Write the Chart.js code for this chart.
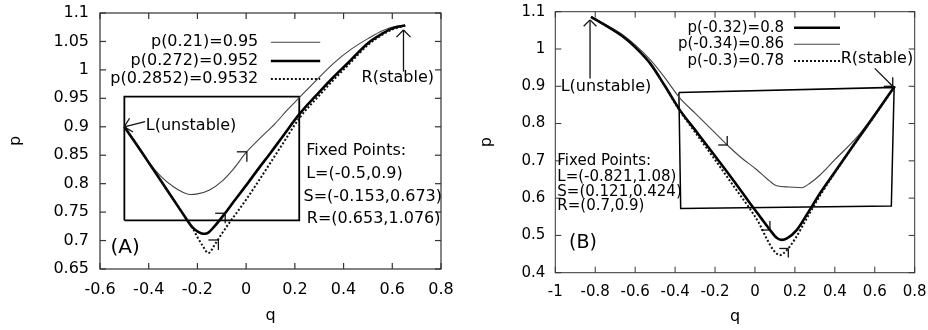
<!DOCTYPE html>
<html><head><meta charset="utf-8">
<script src="https://cdn.jsdelivr.net/npm/chart.js@4"></script>
<style>
html,body{margin:0;padding:0;background:#fff;}
#wrap{position:relative;width:928px;height:330px;overflow:hidden;background:#fff;}
canvas{position:absolute;top:0;}
#cA{left:0;} #cB{left:464px;}
</style></head><body>
<div id="wrap"><canvas id="cA" width="464" height="330"></canvas><canvas id="cB" width="464" height="330"></canvas></div>
<script>
// ---------- Panel A data ----------
const xTicksA = [-0.6,-0.4,-0.2,0,0.2,0.4,0.6,0.8];
const xLabelsA = ['-0.6','-0.4','-0.2','0','0.2','0.4','0.6','0.8'];
const yTicksA = [0.65,0.7,0.75,0.8,0.85,0.9,0.95,1,1.05,1.1];
const yLabelsA = ['0.65','0.7','0.75','0.8','0.85','0.9','0.95','1','1.05','1.1'];

const qA1 = [-0.5,-0.45,-0.4,-0.35,-0.3,-0.26,-0.23,-0.2,-0.15,-0.1,-0.05,0,0.05,0.12,0.17,0.22,0.3,0.36,0.43,0.5,0.56,0.62,0.653];
const pA1 = [0.9,0.869,0.838,0.813,0.795,0.785,0.781,0.782,0.789,0.804,0.827,0.855,0.877,0.906,0.93,0.952,0.987,1.012,1.036,1.055,1.069,1.077,1.078];
const qA2 = [-0.5,-0.45,-0.4,-0.35,-0.3,-0.25,-0.22,-0.2,-0.185,-0.17,-0.155,-0.13,-0.09,-0.05,0,0.05,0.1,0.15,0.22,0.3,0.36,0.42,0.5,0.56,0.6,0.653];
const pA2 = [0.9,0.869,0.837,0.805,0.773,0.741,0.723,0.716,0.713,0.712,0.714,0.725,0.746,0.769,0.797,0.826,0.854,0.883,0.923,0.961,0.988,1.013,1.047,1.064,1.073,1.078];
const qA3 = [-0.5,-0.45,-0.4,-0.35,-0.3,-0.25,-0.22,-0.2,-0.18,-0.155,-0.13,-0.1,-0.066,-0.03,0,0.05,0.1,0.15,0.22,0.3,0.36,0.42,0.5,0.56,0.6,0.653];
const pA3 = [0.9,0.869,0.837,0.805,0.773,0.741,0.722,0.706,0.692,0.678,0.692,0.712,0.733,0.754,0.772,0.804,0.837,0.87,0.916,0.955,0.983,1.009,1.044,1.062,1.071,1.078];
const qArect = [-0.5,-0.5,0.218,0.218,-0.5];
const pArect = [0.7355,0.953,0.953,0.7355,0.7355];
const legendA = ['p(0.21)=0.95','p(0.272)=0.952','p(0.2852)=0.9532'];
const fixedA = ['Fixed Points:','L=(-0.5,0.9)','S=(-0.153,0.673)','R=(0.653,1.076)'];

// ---------- Panel B data ----------
const xTicksB = [-1,-0.8,-0.6,-0.4,-0.2,0,0.2,0.4,0.6,0.8];
const xLabelsB = ['-1','-0.8','-0.6','-0.4','-0.2','0','0.2','0.4','0.6','0.8'];
const yTicksB = [0.4,0.5,0.6,0.7,0.8,0.9,1,1.1];
const yLabelsB = ['0.4','0.5','0.6','0.7','0.8','0.9','1','1.1'];

const qB1 = [-0.821,-0.75,-0.66,-0.6,-0.526,-0.45,-0.376,-0.3,-0.2,-0.1,-0.025,0.03,0.075,0.11,0.134,0.16,0.21,0.26,0.326,0.4,0.5,0.6,0.7];
const pB1 = [1.086,1.064,1.033,1.005,0.962,0.9,0.836,0.783,0.713,0.642,0.586,0.547,0.515,0.493,0.488,0.492,0.515,0.556,0.613,0.67,0.747,0.823,0.9];
const qB2 = [-0.821,-0.75,-0.66,-0.6,-0.526,-0.45,-0.376,-0.3,-0.2,-0.139,-0.07,0.009,0.06,0.109,0.17,0.234,0.28,0.326,0.4,0.513,0.6,0.7];
const pB2 = [1.086,1.066,1.037,1.011,0.972,0.922,0.868,0.828,0.775,0.7425,0.709,0.676,0.652,0.633,0.63,0.628,0.642,0.662,0.703,0.765,0.826,0.9];
const qB3 = [-0.821,-0.75,-0.66,-0.6,-0.526,-0.45,-0.376,-0.3,-0.2,-0.1,-0.03,0.02,0.06,0.092,0.125,0.16,0.2,0.262,0.326,0.4,0.5,0.6,0.7];
const pB3 = [1.086,1.064,1.033,1.005,0.962,0.899,0.834,0.777,0.703,0.627,0.575,0.533,0.49,0.461,0.447,0.461,0.49,0.548,0.607,0.668,0.746,0.822,0.9];
const qBrect = [-0.381,0.697,0.683,-0.372,-0.381];
const pBrect = [0.883,0.897,0.579,0.5725,0.883];
const legendB = ['p(-0.32)=0.8','p(-0.34)=0.86','p(-0.3)=0.78'];
const fixedB = ['Fixed Points:','L=(-0.821,1.08)','S=(0.121,0.424)','R=(0.7,0.9)'];

const pts = (q,p) => q.map((v,i)=>({x:v,y:p[i]}));
const FONT = '"DejaVu Sans", sans-serif';
const TXT = '#000';

const STY = {
  thin:  {borderColor:'#444', borderWidth:1.1, borderDash:[]},
  thick: {borderColor:'#000', borderWidth:2.6, borderDash:[]},
  dot:   {borderColor:'#111', borderWidth:2, borderDash:[2,2]},
};
function curve(q,p,sty){
  return Object.assign({data:pts(q,p), showLine:true, pointRadius:0, cubicInterpolationMode:'monotone', fill:false}, sty);
}
function rect(q,p,w){
  return {data:pts(q,p), showLine:true, pointRadius:0, tension:0, fill:false, borderColor:'#000', borderWidth:w};
}

const annot = {
  id:'annot',
  afterDatasetsDraw(chart, args, o){
    const {ctx, chartArea:a, scales:{x,y}} = chart;
    const X = v => x.getPixelForValue(v), Y = v => y.getPixelForValue(v);
    const line = (x1,y1,x2,y2)=>{ctx.beginPath();ctx.moveTo(x1,y1);ctx.lineTo(x2,y2);ctx.stroke();};
    ctx.save();
    // frame + inward ticks
    ctx.strokeStyle = '#333'; ctx.lineWidth = o.frameW; ctx.setLineDash([]);
    ctx.strokeRect(a.left, a.top, a.right-a.left, a.bottom-a.top);
    const L = 6;
    x.ticks.forEach(t=>{const px=X(t.value); line(px,a.bottom,px,a.bottom-L); line(px,a.top,px,a.top+L);});
    y.ticks.forEach(t=>{const py=Y(t.value); line(a.left,py,a.left+L,py); line(a.right,py,a.right-L,py);});
    // arrow heads helper
    const head = (tx,ty,dx,dy,len)=>{
      const ang = Math.atan2(dy,dx)+Math.PI, ha = Math.PI/4;
      line(tx,ty,tx+len*Math.cos(ang+ha),ty+len*Math.sin(ang+ha));
      line(tx,ty,tx+len*Math.cos(ang-ha),ty+len*Math.sin(ang-ha));
    };
    ctx.strokeStyle = '#111'; ctx.lineWidth = 1.3;
    o.arrows.forEach(ar=>{
      const x1=X(ar.from[0]), y1=Y(ar.from[1]), x2=X(ar.to[0]), y2=Y(ar.to[1]);
      line(x1,y1,x2,y2); head(x2,y2,x2-x1,y2-y1,o.headLen);
    });
    o.heads.forEach(h=>{ head(X(h.at[0]),Y(h.at[1]),h.dir[0],h.dir[1],o.headLen); });
    // labels
    ctx.fillStyle = TXT; ctx.textBaseline = 'middle';
    o.labels.forEach(l=>{
      ctx.font = `${l.size}px ${FONT}`; ctx.textAlign = l.align || 'left';
      ctx.fillText(l.t, X(l.q), Y(l.p));
    });
    // legend
    const lg = o.legend;
    lg.items.forEach((it,i)=>{
      const py = Y(lg.p[i]);
      ctx.font = `${lg.size}px ${FONT}`; ctx.textAlign='right'; ctx.fillStyle=TXT;
      ctx.fillText(it.t, X(lg.q), py);
      const ds = chart.data.datasets[it.ds];
      ctx.strokeStyle = ds.borderColor; ctx.lineWidth = ds.borderWidth; ctx.setLineDash(ds.borderDash||[]);
      line(X(lg.s0), py, X(lg.s1), py);
      ctx.setLineDash([]);
    });
    ctx.restore();
  }
};

function makeChart(id, c){
  return new Chart(document.getElementById(id), {
    type:'scatter',
    data:{datasets:c.datasets},
    options:{
      responsive:false, animation:false, devicePixelRatio:1,
      layout:{padding:c.pad},
      plugins:{legend:{display:false}, tooltip:{enabled:false}, annot:c.annot},
      scales:{
        x:{type:'linear', min:c.xMin, max:c.xMax,
          afterBuildTicks:s=>{s.ticks=c.xTicks.map(v=>({value:v}));},
          afterFit:s=>{s.height=c.xH; s.paddingLeft=0; s.paddingRight=0;},
          ticks:{autoSkip:false, maxRotation:0, padding:c.xPad, color:TXT, font:{family:FONT,size:c.tickSize}, callback:(v,i)=>c.xLabels[i]},
          grid:{display:false, drawTicks:false}, border:{display:false},
          title:{display:true, text:'q', color:TXT, font:{family:FONT,size:16}, padding:{top:0,bottom:c.xTitlePad}}},
        y:{type:'linear', min:c.yMin, max:c.yMax,
          afterBuildTicks:s=>{s.ticks=c.yTicks.map(v=>({value:v}));},
          afterFit:s=>{s.width=c.yW; s.paddingTop=0; s.paddingBottom=0;},
          ticks:{autoSkip:false, padding:c.yPad, color:TXT, font:{family:FONT,size:c.tickSize}, callback:(v,i)=>c.yLabels[i]},
          grid:{display:false, drawTicks:false}, border:{display:false},
          title:{display:true, text:'p', color:TXT, font:{family:FONT,size:16}, padding:{top:c.yTitlePad,bottom:0}}}
      }
    },
    plugins:[annot]
  });
}

makeChart('cA', {
  datasets:[curve(qA3,pA3,STY.dot), curve(qA2,pA2,STY.thick), curve(qA1,pA1,STY.thin), rect(qArect,pArect,1.8)],
  pad:{left:0,right:23,top:13,bottom:0}, xH:61, yW:100, xPad:11, yPad:11, xTitlePad:5, yTitlePad:6, tickSize:16,
  xMin:-0.6, xMax:0.8, yMin:0.65, yMax:1.1,
  xTicks:xTicksA, xLabels:xLabelsA, yTicks:yTicksA, yLabels:yLabelsA,
  annot:{
    frameW:1.2, headLen:10,
    arrows:[{from:[-0.415,0.909],to:[-0.5,0.9]},{from:[0.646,0.997],to:[0.646,1.07]}],
    heads:[{at:[0.003,0.856],dir:[1,-1]},{at:[-0.086,0.748],dir:[1,-1]},{at:[-0.114,0.701],dir:[1,-1]}],
    labels:[
      {t:'L(unstable)',q:-0.412,p:0.901,size:16},
      {t:'R(stable)',q:0.6225,p:0.9857,size:16,align:'center'},
      {t:fixedA[0],q:0.2465,p:0.858,size:16},
      {t:fixedA[1],q:0.2465,p:0.8165,size:16},
      {t:fixedA[2],q:0.2354,p:0.776,size:16},
      {t:fixedA[3],q:0.249,p:0.739,size:16},
      {t:'(A)',q:-0.497,p:0.687,size:20,align:'center'}
    ],
    legend:{q:0.0498, s0:0.1014, s1:0.304, size:16, p:[1.0485,1.0156,0.984],
      items:[{t:legendA[0],ds:2},{t:legendA[1],ds:1},{t:legendA[2],ds:0}]}
  }
});

makeChart('cB', {
  datasets:[curve(qB3,pB3,STY.dot), curve(qB1,pB1,STY.thick), curve(qB2,pB2,STY.thin), rect(qBrect,pBrect,1.5)],
  pad:{left:0,right:13.3,top:11.7,bottom:0}, xH:57.3, yW:91.3, xPad:10, yPad:10, xTitlePad:4, yTitlePad:13, tickSize:15,
  xMin:-1, xMax:0.8, yMin:0.4, yMax:1.1,
  xTicks:xTicksB, xLabels:xLabelsB, yTicks:yTicksB, yLabels:yLabelsB,
  annot:{
    frameW:1, headLen:9,
    arrows:[{from:[-0.826,0.921],to:[-0.826,1.078]},{from:[0.6,0.948],to:[0.69,0.9]}],
    heads:[{at:[-0.139,0.7425],dir:[1,1]},{at:[0.075,0.5145],dir:[1,1]},{at:[0.167,0.465],dir:[1,-1]}],
    labels:[
      {t:'L(unstable)',q:-0.973,p:0.898,size:16},
      {t:'R(stable)',q:0.4294,p:0.9723,size:16},
      {t:fixedB[0],q:-0.99,p:0.6996,size:15},
      {t:fixedB[1],q:-0.99,p:0.6575,size:15},
      {t:fixedB[2],q:-0.99,p:0.6156,size:15},
      {t:fixedB[3],q:-0.99,p:0.5797,size:15},
      {t:'(B)',q:-0.861,p:0.4797,size:19,align:'center'}
    ],
    legend:{q:0.1454, s0:0.1955, s1:0.4259, size:15, p:[1.0571,1.0126,0.9678],
      items:[{t:legendB[0],ds:1},{t:legendB[1],ds:2},{t:legendB[2],ds:0}]}
  }
});
</script>
</body></html>
